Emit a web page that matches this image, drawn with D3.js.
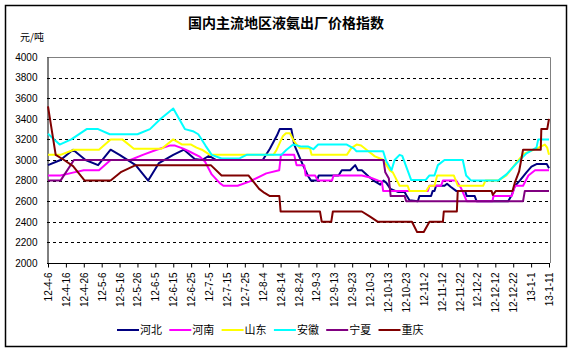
<!DOCTYPE html>
<html>
<head>
<meta charset="utf-8">
<script src="https://cdn.jsdelivr.net/npm/d3@7"></script>
<style>
	body { margin: 0; background: #fff; }
	text { font-family: "Liberation Sans", Arial, "Noto Sans CJK SC", sans-serif; }
	.cjk { font-family: "Noto Sans CJK SC", sans-serif; }
</style>
</head>
<body>
<div id="chart"></div>
<script>
// x labels, one every 10 days starting 12-4-6
var tick_labels = ['12-4-6', '12-4-16', '12-4-26', '12-5-6', '12-5-16', '12-5-26', '12-6-5',
	'12-6-15', '12-6-25', '12-7-5', '12-7-15', '12-7-25', '12-8-4', '12-8-14', '12-8-24',
	'12-9-3', '12-9-13', '12-9-23', '12-10-3', '12-10-13', '12-10-23', '12-11-2', '12-11-12',
	'12-11-22', '12-12-2', '12-12-12', '12-12-22', '13-1-1', '13-1-11'];
var y_ticks = [2000, 2200, 2400, 2600, 2800, 3000, 3200, 3400, 3600, 3800, 4000];

var names = ['河北', '河南', '山东', '安徽', '宁夏', '重庆'];
var colors = ['#000080', '#ff00ff', '#ffff00', '#00ffff', '#800080', '#800000'];

// [day since 12-4-6, price]
var hebei = [[0,2950],[7,3000],[14,3100],[21,3000],[28,2950],[35,3100],[40,3050],[49,2950],
	[56,2800],[62,2970],[70,3050],[76,3100],[82,3010],[86,3000],[90,3040],[94,3000],[120,3000],
	[124,3110],[128,3240],[129.5,3300],[136,3300],[137.6,3150],[140.5,3030],[142.5,2950],
	[145.5,2840],[147,2800],[150.3,2800],[151.3,2850],[162.4,2850],[164.2,2900],[168.9,2900],
	[171.7,2950],[173.2,2900],[175.4,2900],[179.2,2840],[182,2800],[185.7,2760],[187.5,2800],
	[189,2780],[191.4,2720],[195.5,2690],[199.3,2690],[200.2,2660],[202,2610],[206.7,2600],
	[207.6,2650],[214.1,2650],[215,2700],[216,2700],[216.9,2750],[221.6,2750],[223,2770],
	[225,2740],[228.1,2700],[233.1,2700],[234,2650],[238.5,2650],[239.5,2600],[257.2,2600],
	[259.2,2660],[261,2750],[263.7,2800],[267.4,2880],[270.2,2935],[273,2960],[278.8,2960],[280,2920]];
var henan = [[0,2850],[7,2850],[14.5,2880],[20,2900],[28.5,2900],[35,3000],[46,3000],[53,3050],
	[60.7,3100],[68,3140],[71,3140],[75.6,3110],[79.3,3080],[85,3030],[87.7,2985],[91.5,2860],
	[96,2775],[98,2750],[106,2750],[112.5,2790],[122,2870],[129.2,2900],[130.2,3050],[137.6,3050],
	[138.9,2950],[143.2,2950],[144,2850],[149.3,2850],[150.8,2800],[158.7,2800],[159.6,2850],
	[175.4,2850],[180,2830],[184.7,2800],[186.6,2790],[187.3,2700],[212.3,2700],[213.2,2750],
	[219.7,2750],[220.7,2800],[228.1,2800],[230.9,2725],[232.8,2650],[234,2600],[248.4,2600],
	[249,2650],[259.2,2650],[261,2750],[265.5,2750],[268.5,2850],[272.2,2900],[280,2900]];
var shandong = [[0,3050],[7,3050],[14.5,3100],[28.5,3100],[35,3200],[41.5,3200],[48,3110],
	[63.5,3110],[70,3200],[75,3150],[80,3150],[83,3120],[86,3100],[90.5,3050],[126,3050],
	[127.8,3100],[131.2,3230],[133,3260],[135.2,3260],[137.6,3180],[139.5,3140],[141,3115],
	[146.4,3115],[147.3,3050],[167,3050],[169.5,3115],[172.5,3150],[175,3140],[178,3100],
	[182.7,3035],[187,3005],[189.2,2950],[191,2900],[192.7,2880],[196.5,2750],[201,2750],
	[202,2700],[211.4,2700],[213.2,2750],[216,2750],[217.5,2850],[226.8,2850],[229,2750],
	[243.2,2750],[244.5,2800],[251.6,2800],[256.2,2850],[263.7,3016],[266.5,3065],[273,3110],
	[277.7,3150],[279,3120],[280,3050]];
var anhui = [[0,3255],[6.5,3150],[13,3200],[21.6,3300],[28,3300],[34.5,3250],[50,3250],[57,3300],
	[63,3400],[70,3500],[76.5,3300],[81,3280],[84,3250],[88,3140],[91.5,3050],[97,3015],
	[107,3015],[111,3050],[130.4,3050],[133.3,3100],[137,3150],[141.8,3130],[145.5,3130],
	[148.3,3105],[151,3150],[167,3150],[171,3110],[172.4,3085],[187.3,3085],[189,2990],[192,2900],
	[193.7,3000],[196.5,3050],[198,3040],[200.2,2935],[203,2805],[211,2805],[213.2,2850],
	[216,2850],[217.9,2950],[221.6,3000],[231.8,3000],[233.7,2850],[236.5,2800],[251.6,2800],
	[256.2,2860],[261.8,2967],[267.4,3064],[273,3120],[274,3200],[280,3200]];
var ningxia = [[0,2800],[7,2800],[14.5,3000],[187.5,3000],[188.5,2880],[190.5,2820],[191.5,2650],
	[199.3,2650],[200.2,2600],[265.5,2600],[266.5,2700],[280,2700]];
var chongqing = [[0,3520],[4.3,3050],[9,3000],[14,2940],[20.5,2800],[35,2800],[41,2885],[49,2950],
	[91,2950],[97,2850],[112,2850],[118,2720],[121,2680],[124,2650],[129.3,2650],[130,2500],
	[152,2500],[153,2400],[158.3,2400],[159.2,2500],[175.4,2500],[180,2450],[184.4,2400],
	[203.4,2400],[206.3,2300],[210,2300],[213.2,2400],[220.7,2400],[221.2,2500],[228.5,2500],
	[229,2700],[247.9,2700],[248.6,2660],[250.3,2700],[259.6,2700],[260.9,2780],[263.3,2890],
	[265.5,3100],[275.4,3100],[275.7,3300],[279,3300],[280,3400]];

var series = [hebei, henan, shandong, anhui, ningxia, chongqing];

var width = 573;
var height = 353;
var plot = {left: 47, top: 57, right: 550, bottom: 263};

var svg = d3.select('#chart')
			.append('svg')
			.attr('width', width)
			.attr('height', height);

// outer frame
svg.append('rect')
	.attr('x', 5.5).attr('y', 5.5)
	.attr('width', 561).attr('height', 341)
	.attr('fill', '#fff')
	.attr('stroke', '#000')
	.attr('stroke-width', 1.5);

// Create scales
var x_scale = d3.scaleLinear()
				.domain([0, 280])
				.range([48, 549]);
var y_scale = d3.scaleLinear()
				.domain([2000, 4000])
				.range([plot.bottom, plot.top]);

// plot border (grey top/right)
svg.append('path')
	.attr('d', 'M' + plot.left + ',' + (plot.top + 0.5) + 'H' + (plot.right + 0.5) + 'V' + plot.bottom)
	.attr('fill', 'none')
	.attr('stroke', '#808080');

// grid lines
svg.append('g').selectAll('line')
	.data(y_ticks.slice(1, -1))
	.enter()
	.append('line')
	.attr('x1', plot.left)
	.attr('x2', plot.right - 1)
	.attr('y1', function(d){ return Math.round(y_scale(d)) + 0.5; })
	.attr('y2', function(d){ return Math.round(y_scale(d)) + 0.5; })
	.attr('stroke', '#000')
	.attr('stroke-dasharray', '3,3');

// Create axis
var y_axis = d3.axisLeft(y_scale)
			.tickValues(y_ticks)
			.tickSize(0)
			.tickPadding(10)
			.tickFormat(d3.format('d'));
svg.append('g')
	.attr('transform', 'translate(' + (plot.left + 0.5) + ',0)')
	.call(y_axis)
	.call(function(g){
		g.select('.domain').attr('stroke', '#000');
		g.selectAll('text').attr('font-size', 10).attr('fill', '#000');
	});

var x_axis = d3.axisBottom(x_scale)
			.tickValues(d3.range(0, 281, 10))
			.tickSize(4)
			.tickFormat(function(d, i){ return tick_labels[i]; });
svg.append('g')
	.attr('transform', 'translate(0,' + (plot.bottom + 0.5) + ')')
	.call(x_axis)
	.call(function(g){
		g.select('.domain').attr('d', 'M' + plot.left + ',0H' + plot.right).attr('stroke', '#000');
		g.selectAll('.tick line').attr('stroke', '#000');
		g.selectAll('.tick text')
			.attr('font-size', 10)
			.attr('fill', '#000')
			.attr('x', 0)
			.attr('y', 0)
			.attr('dy', '0.35em')
			.attr('text-anchor', 'end')
			.attr('transform', 'translate(0,9) rotate(-90)');
	});

// Create lines
var line = d3.line()
			.x(function(d){ return x_scale(d[0]); })
			.y(function(d){ return y_scale(d[1]); });

svg.append('g').selectAll('path')
	.data(series)
	.enter()
	.append('path')
	.attr('d', line)
	.attr('fill', 'none')
	.attr('stroke', function(d, i){ return colors[i]; })
	.attr('stroke-width', 2)
	.attr('stroke-linejoin', 'round');

// title and unit
svg.append('text')
	.attr('class', 'cjk')
	.attr('x', 286)
	.attr('y', 28)
	.attr('text-anchor', 'middle')
	.attr('font-size', 14)
	.attr('font-weight', 'bold')
	.text('国内主流地区液氨出厂价格指数');
svg.append('text')
	.attr('class', 'cjk')
	.attr('x', 20)
	.attr('y', 41)
	.attr('font-size', 10)
	.text('元/吨');

// Create legend
var legend = svg.append('g').selectAll('g')
	.data(names)
	.enter()
	.append('g')
	.attr('transform', function(d, i){ return 'translate(' + (117 + i * 52.3) + ',330)'; });
legend.append('line')
	.attr('x1', 0).attr('x2', 22)
	.attr('stroke', function(d, i){ return colors[i]; })
	.attr('stroke-width', 2);
legend.append('text')
	.attr('class', 'cjk')
	.attr('x', 23)
	.attr('dy', '0.35em')
	.attr('font-size', 11)
	.text(function(d){ return d; });
</script>
</body>
</html>
